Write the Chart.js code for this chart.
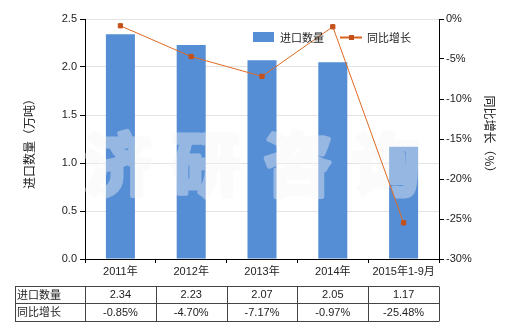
<!DOCTYPE html>
<html lang="zh">
<head>
<meta charset="UTF-8">
<title>进口数量及同比增长</title>
<script src="https://cdn.jsdelivr.net/npm/chart.js"></script>
<style>
  body { margin: 0; background: #fff; }
</style>
</head>
<body>
<canvas id="chart" width="520" height="330"></canvas>
<script>
// data
const years = ['2011年', '2012年', '2013年', '2014年', '2015年1-9月'];
const importQty = [2.34, 2.23, 2.07, 2.05, 1.17];      // 万吨
const yoyGrowth = [-0.85, -4.70, -7.17, -0.97, -25.48]; // %
const qtyLabels = ['2.34', '2.23', '2.07', '2.05', '1.17'];
const growthLabels = ['-0.85%', '-4.70%', '-7.17%', '-0.97%', '-25.48%'];

const FONT = '"Liberation Sans", "Noto Sans CJK SC", sans-serif';
const CJK = '"Noto Sans CJK SC", sans-serif';

// watermark drawn once on its own canvas, then blended in with one alpha
function makeWatermark() {
    const c = document.createElement('canvas');
    c.width = 520;
    c.height = 330;
    const g = c.getContext('2d');
    const chars = ['济', '研', '咨', '询'];
    const xs = [118, 206, 298, 386];
    g.font = 'bold 68px ' + CJK;
    g.fillStyle = '#f6f6f6';
    g.strokeStyle = '#f6f6f6';
    g.lineWidth = 5;
    g.lineJoin = 'round';
    g.textAlign = 'center';
    g.textBaseline = 'middle';
    chars.forEach((ch, i) => {
        g.strokeText(ch, xs[i], 164);
        g.fillText(ch, xs[i], 164);
    });
    return c;
}
const watermark = makeWatermark();

// watermark, axis titles, legend and the data table
const extras = {
    id: 'extras',
    afterDatasetDraw(chart, args) {
        if (args.meta.type !== 'bar') return;
        const ctx = chart.ctx;
        ctx.save();
        ctx.globalAlpha = 0.4;
        ctx.drawImage(watermark, 0, 0);
        ctx.restore();
    },
    afterDraw(chart) {
        const ctx = chart.ctx;
        const area = chart.chartArea;
        ctx.save();

        // axis titles
        ctx.fillStyle = '#222';
        ctx.font = '12px ' + CJK;
        ctx.textAlign = 'center';
        ctx.textBaseline = 'middle';
        ctx.save();
        ctx.translate(29, 141);
        ctx.rotate(-Math.PI / 2);
        ctx.fillText('进口数量（万吨）', 0, 0);
        ctx.restore();
        ctx.save();
        ctx.translate(490, 137);
        ctx.rotate(Math.PI / 2);
        ctx.fillText('同比增长（%）', 0, 0);
        ctx.restore();

        // legend
        ctx.font = '11px ' + CJK;
        ctx.textAlign = 'left';
        ctx.fillStyle = '#558ED5';
        ctx.fillRect(253, 32, 21, 10);
        ctx.fillStyle = '#222';
        ctx.fillText('进口数量', 280, 38);
        ctx.strokeStyle = '#D9631E';
        ctx.lineWidth = 2;
        ctx.beginPath();
        ctx.moveTo(340, 37.5);
        ctx.lineTo(362, 37.5);
        ctx.stroke();
        ctx.fillStyle = '#C4501A';
        ctx.fillRect(349, 35, 5, 5);
        ctx.fillStyle = '#222';
        ctx.fillText('同比增长', 367, 38);

        // table
        const xScale = chart.scales.x;
        const step = (area.right - area.left) / years.length;
        const left = 15, top = 285.5, rowH = 17.7;
        ctx.strokeStyle = '#444';
        ctx.lineWidth = 1;
        ctx.beginPath();
        for (let r = 0; r <= 2; r++) {
            const y = Math.round(top + r * rowH) + 0.5;
            ctx.moveTo(left, y);
            ctx.lineTo(area.right, y);
        }
        const colXs = [left, area.left];
        for (let i = 1; i <= years.length; i++) colXs.push(area.left + i * step);
        colXs.forEach(x => {
            const xx = Math.round(x) + 0.5;
            ctx.moveTo(xx, Math.round(top) + 0.5);
            ctx.lineTo(xx, Math.round(top + 2 * rowH) + 0.5);
        });
        ctx.stroke();

        ctx.fillStyle = '#222';
        ctx.textAlign = 'left';
        ctx.font = '11px ' + CJK;
        ctx.fillText('进口数量', left + 2, top + rowH / 2);
        ctx.fillText('同比增长', left + 2, top + rowH * 1.5);
        ctx.textAlign = 'center';
        ctx.font = '11px ' + FONT;
        years.forEach((y, i) => {
            const cx = xScale.getPixelForValue(i);
            ctx.fillText(qtyLabels[i], cx, top + rowH / 2 + 1);
            ctx.fillText(growthLabels[i], cx, top + rowH * 1.5 + 1);
        });
        ctx.restore();
    }
};

new Chart(document.getElementById('chart').getContext('2d'), {
    data: {
        labels: years,
        datasets: [
            {
                type: 'line',
                label: '同比增长',
                data: yoyGrowth,
                yAxisID: 'y1',
                borderColor: '#DE6A22',
                borderWidth: 1,
                pointStyle: 'rect',
                pointRadius: 3,
                pointBackgroundColor: '#C4501A',
                pointBorderColor: '#C4501A',
                order: 0
            },
            {
                type: 'bar',
                label: '进口数量',
                data: importQty,
                yAxisID: 'y',
                backgroundColor: '#558ED5',
                barPercentage: 0.41,
                categoryPercentage: 1,
                order: 1
            }
        ]
    },
    options: {
        responsive: false,
        animation: false,
        layout: { padding: { top: 19, left: 0, right: 0, bottom: 0 } },
        plugins: {
            legend: { display: false },
            tooltip: { enabled: false }
        },
        scales: {
            x: {
                grid: { offset: true, drawOnChartArea: false, tickLength: 4, color: '#000' },
                border: { color: '#000' },
                ticks: { font: { size: 11, family: FONT }, color: '#222', padding: 2, maxRotation: 0 },
                afterFit(scale) { scale.height = 71; }
            },
            y: {
                position: 'left',
                min: 0,
                max: 2.5,
                ticks: {
                    stepSize: 0.5,
                    font: { size: 11, family: FONT },
                    color: '#222',
                    padding: 3,
                    callback: v => v.toFixed(1)
                },
                grid: { color: '#e3e3e3', tickColor: '#000', tickLength: 5 },
                border: { color: '#000' },
                afterFit(scale) { scale.width = 85; }
            },
            y1: {
                position: 'right',
                min: -30,
                max: 0,
                ticks: {
                    stepSize: 5,
                    font: { size: 11, family: FONT },
                    color: '#222',
                    padding: 2,
                    callback: v => v + '%'
                },
                grid: { drawOnChartArea: false, color: '#000', tickLength: 5 },
                border: { color: '#000' },
                afterFit(scale) { scale.width = 81; }
            }
        }
    },
    plugins: [extras]
});
</script>
</body>
</html>
